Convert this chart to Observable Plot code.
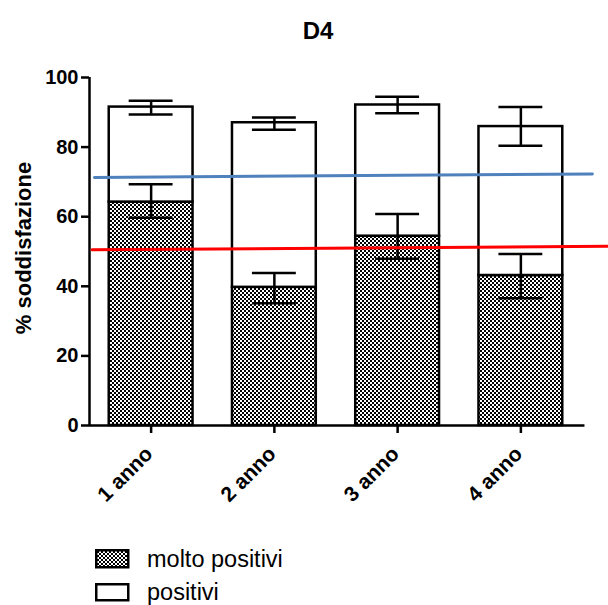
<!DOCTYPE html>
<html><head><meta charset="utf-8">
<script src="https://cdn.jsdelivr.net/npm/d3@7"></script>
<script src="https://cdn.jsdelivr.net/npm/@observablehq/plot@0.6"></script>
<style>
body{margin:0;background:#fff;font-family:Arial,"Liberation Sans",sans-serif;color:#000;}
#wrap{width:608px;height:605px;overflow:hidden;}
#title{box-sizing:border-box;width:608px;height:50px;padding-left:28px;padding-top:19px;text-align:center;font-weight:bold;font-size:24px;line-height:24px;}
#chart{height:480px;}
#legend{position:relative;height:75px;}
#legend span{position:absolute;font-size:23.5px;line-height:24px;white-space:nowrap;}
#legend svg{position:absolute;}
</style></head>
<body>
<div id="wrap">
<div id="title">D4</div>
<div id="chart"></div>
<div id="legend">
  <svg style="left:95px;top:19px" width="36" height="21"><defs><pattern id="chkL" width="4" height="4" patternUnits="userSpaceOnUse"><rect width="4" height="4" fill="#fff"/><rect width="2" height="2" fill="#000"/><rect x="2" y="2" width="2" height="2" fill="#000"/></pattern></defs><rect x="1.25" y="1.25" width="32" height="17" fill="url(#chkL)" stroke="#000" stroke-width="2.5"/></svg>
  <span id="l1" style="left:147px;top:17px"></span>
  <svg style="left:95px;top:53px" width="36" height="21"><rect x="1.25" y="1.25" width="32" height="16" fill="#fff" stroke="#000" stroke-width="2.5"/></svg>
  <span id="l2" style="left:147px;top:50px"></span>
</div>
</div>
<script>
const categories = ["1 anno", "2 anno", "3 anno", "4 anno"];
const seriesNames = ["molto positivi", "positivi"];
const moltoPositivi = [64.2, 39.7, 54.4, 43.1];
const moltoErrLow = [59.7, 35.1, 47.9, 36.6];
const moltoErrHigh = [69.3, 43.8, 60.8, 49.3];
const totale = [91.5, 87.0, 92.1, 85.9];
const totaleErrLow = [89.4, 85.0, 89.7, 80.4];
const totaleErrHigh = [93.3, 88.5, 94.5, 91.5];
const yTicks = [0, 20, 40, 60, 80, 100];
const yLabel = "% soddisfazione";
const lineaBlu = [{x: 0.54, y: 71.3}, {x: 4.58, y: 72.3}];
const lineaRossa = [{x: 0.52, y: 50.5}, {x: 4.71, y: 51.5}];

document.getElementById("l1").textContent = seriesNames[0];
document.getElementById("l2").textContent = seriesNames[1];

const rows = categories.map((c, k) => ({
  i: k + 1, cat: c,
  molto: moltoPositivi[k], mLo: moltoErrLow[k], mHi: moltoErrHigh[k],
  tot: totale[k], tLo: totaleErrLow[k], tHi: totaleErrHigh[k]
}));
const hw = 0.34, cw = 0.178;
const sw = 2.5;

const chart = Plot.plot({
  width: 608,
  height: 480,
  marginLeft: 89,
  marginRight: 26,
  marginTop: 27,
  marginBottom: 105,
  style: {fontFamily: "Arial, 'Liberation Sans', sans-serif", color: "#000", background: "#fff", overflow: "visible"},
  x: {domain: [0.5, 4.5], axis: null},
  y: {domain: [0, 100], axis: null},
  marks: [
    Plot.rectY(rows, {x1: d => d.i - hw, x2: d => d.i + hw, y1: 0, y2: "molto", fill: "url(#chk)", stroke: "#000", strokeWidth: sw}),
    Plot.rectY(rows, {x1: d => d.i - hw, x2: d => d.i + hw, y1: "molto", y2: "tot", fill: "#fff", stroke: "#000", strokeWidth: sw}),
    Plot.ruleX(rows, {x: "i", y1: "mLo", y2: "mHi", stroke: "#000", strokeWidth: sw}),
    Plot.ruleY(rows, {y: "mLo", x1: d => d.i - cw, x2: d => d.i + cw, stroke: "#000", strokeWidth: sw}),
    Plot.ruleY(rows, {y: "mHi", x1: d => d.i - cw, x2: d => d.i + cw, stroke: "#000", strokeWidth: sw}),
    Plot.ruleX(rows, {x: "i", y1: "tLo", y2: "tHi", stroke: "#000", strokeWidth: sw}),
    Plot.ruleY(rows, {y: "tLo", x1: d => d.i - cw, x2: d => d.i + cw, stroke: "#000", strokeWidth: sw}),
    Plot.ruleY(rows, {y: "tHi", x1: d => d.i - cw, x2: d => d.i + cw, stroke: "#000", strokeWidth: sw}),
    Plot.ruleX([0.5], {y1: 0, y2: 100, stroke: "#000", strokeWidth: sw}),
    Plot.ruleY([0], {x1: 0.5, x2: 4.52, stroke: "#000", strokeWidth: sw}),
    Plot.axisY({ticks: yTicks, tickSize: 8, tickPadding: 3, fontSize: 20, fontWeight: "bold", strokeWidth: sw, label: null}),
    Plot.axisX({ticks: [1, 2, 3, 4], tickFormat: () => "", tickSize: 8, strokeWidth: sw, label: null}),
    Plot.text(rows, {x: "i", y: 0, text: "cat", rotate: -45, textAnchor: "end", lineAnchor: "middle", dx: -2, dy: 25, fontSize: 21, fontWeight: "bold", fill: "#000"}),
    Plot.text([yLabel], {x: 0.5, y: 51, dx: -66, rotate: -90, fontSize: 22, fontWeight: "bold", text: d => d, fill: "#000"}),
    Plot.line(lineaBlu, {x: "x", y: "y", stroke: "#4f81bd", strokeWidth: 3}),
    Plot.line(lineaRossa, {x: "x", y: "y", stroke: "#ff0000", strokeWidth: 3})
  ]
});
chart.insertAdjacentHTML("afterbegin", '<defs><pattern id="chk" width="4" height="4" patternUnits="userSpaceOnUse"><rect width="4" height="4" fill="#fff"/><rect width="2" height="2" fill="#000"/><rect x="2" y="2" width="2" height="2" fill="#000"/></pattern></defs>');
document.getElementById("chart").appendChild(chart);
</script>
</body></html>
